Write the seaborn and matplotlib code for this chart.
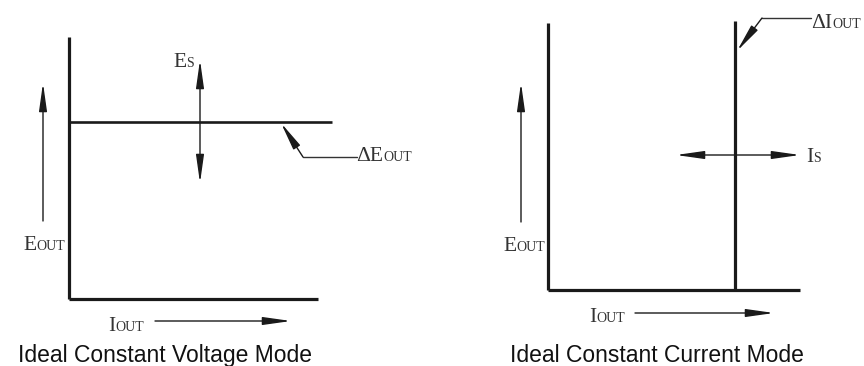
import pandas as pd
import matplotlib.pyplot as plt
import seaborn as sns

sns.set_style("white")

# frame and characteristic lines, in pixel space of the picture (x right, y down)
seg_names = ["cv_y", "cv_x", "cv_line", "cc_y", "cc_x", "cc_line"]
seg_x = [[69, 69], [69, 318], [69, 332], [548, 548], [548, 800], [735, 735]]
seg_y = [[37, 299], [299, 299], [122, 122], [23, 290], [290, 290], [21, 290]]
seg_width = [2.3, 2.3, 1.9, 2.3, 2.3, 2.3]

# single-headed arrows: (start, end)
arrows = [
    ((43, 221), (43, 83)),     # Eout left panel
    ((155, 321), (291, 321)),  # Iout left panel
    ((521, 222), (521, 83)),   # Eout right panel
    ((635, 313), (774, 313)),  # Iout right panel
    ((303, 157), (281, 123)),  # delta Eout leader
    ((762, 18), (737, 51)),    # delta Iout leader
]
# double-headed arrows
dbl_arrows = [
    ((200, 183), (200, 60)),   # Es
    ((676, 155), (800, 155)),  # Is
]
# leader tails
tails_x = [[303, 357], [762, 811]]
tails_y = [[157, 157], [18, 18]]

# labels: (x, y baseline, big letters, small letters, small size)
labels = [
    (23, 250, "E", "OUT"),
    (173, 67, "E", "S"),
    (356, 161, "ΔE", "OUT"),
    (108, 331, "I", "OUT"),
    (503, 251, "E", "OUT"),
    (589, 322, "I", "OUT"),
    (806, 162, "I", "S"),
    (811, 28, "ΔI", "OUT"),
]
titles = ["Ideal Constant Voltage Mode", "Ideal Constant Current Mode"]
title_x = [165, 657]
title_y = 362

rows = []
for name, xs, ys in zip(seg_names, seg_x, seg_y):
    for x, y in zip(xs, ys):
        rows.append({"seg": name, "x": x, "y": y})
df = pd.DataFrame(rows)

fig = plt.figure(figsize=(8.64, 3.66), dpi=100)
ax = fig.add_axes([0, 0, 1, 1])
ax.set_xlim(0, 864)
ax.set_ylim(366, 0)
ax.axis("off")

for name, lw in zip(seg_names, seg_width):
    sub = df[df.seg == name]
    sns.lineplot(data=sub, x="x", y="y", ax=ax, color="#1a1a1a", lw=lw,
                 estimator=None, sort=False, solid_capstyle="butt")

for xs, ys in zip(tails_x, tails_y):
    ax.plot(xs, ys, color="#333333", lw=1.0)

for start, end in arrows:
    ax.annotate("", xy=end, xytext=start,
                arrowprops=dict(arrowstyle="-|>,head_length=1.7,head_width=0.24",
                                lw=1.0, color="#1a1a1a",
                                mutation_scale=10, shrinkA=0, shrinkB=0))
for start, end in dbl_arrows:
    ax.annotate("", xy=end, xytext=start,
                arrowprops=dict(arrowstyle="<|-|>,head_length=1.7,head_width=0.24",
                                lw=1.0, color="#1a1a1a",
                                mutation_scale=10, shrinkA=0, shrinkB=0))

serif = "Liberation Serif"
for x, y, big, small in labels:
    t = ax.text(x, y, big, fontsize=15.5, family=serif, color="#333333",
                va="baseline", ha="left")
    fig.canvas.draw()
    bb = t.get_window_extent()
    x2 = ax.transData.inverted().transform((bb.x1, bb.y0))[0]
    ax.text(x2, y, small, fontsize=10, family=serif, color="#333333",
            va="baseline", ha="left")

for label, x in zip(titles, title_x):
    ax.text(x, title_y, label, fontsize=16.5, family="Liberation Sans",
            color="#111111", ha="center", va="baseline")

plt.savefig("out.png", dpi=100)
